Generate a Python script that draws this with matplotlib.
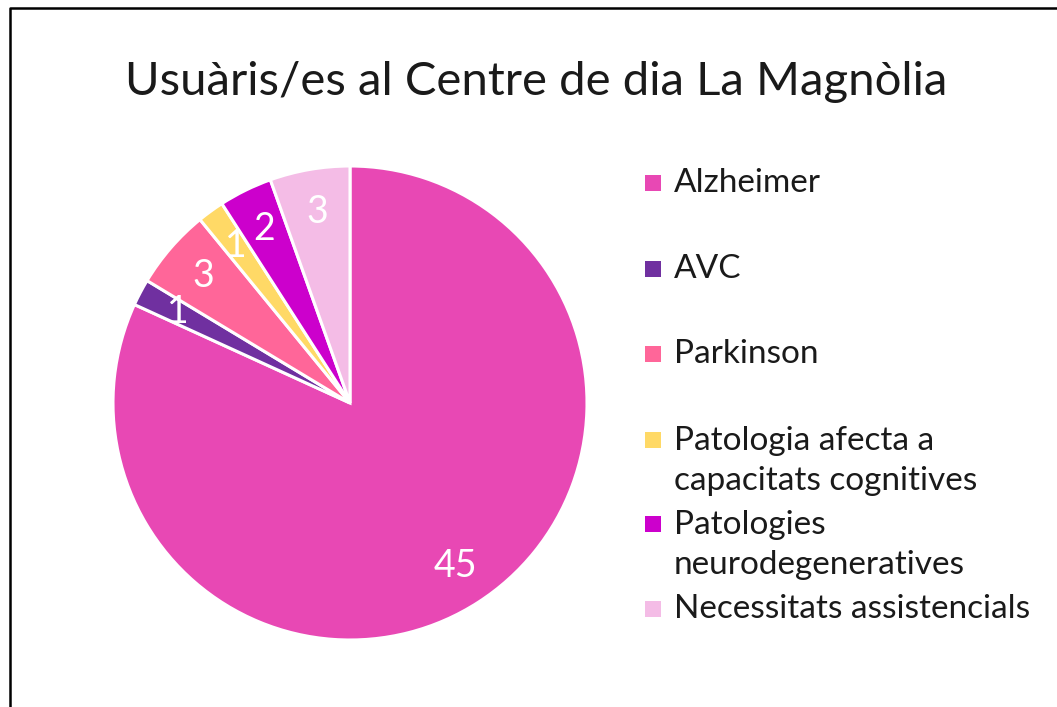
import matplotlib.pyplot as plt
from matplotlib.lines import Line2D
from matplotlib.patches import Rectangle

plt.rcParams['font.family'] = ['Lato', 'DejaVu Sans']

labels = ['Alzheimer', 'AVC', 'Parkinson',
          'Patologia afecta a\ncapacitats cognitives',
          'Patologies\nneurodegeneratives',
          'Necessitats assistencials']
values = [45, 1, 3, 1, 2, 3]
colors = ['#E848B4', '#7030A0', '#FF6699', '#FFD966', '#CC00CC', '#F4BCE6']

W, H = 1057, 707
fig = plt.figure(figsize=(W / 100, H / 100), dpi=100)

# pie axes, center ~ (350, 403) px, radius ~ 237 px
cx, cy, r = 350, 403, 237
ax = fig.add_axes([(cx - r) / W, (H - cy - r) / H, 2 * r / W, 2 * r / H])
total = sum(values)
wedges, texts, autotexts = ax.pie(
    values, colors=colors, startangle=90, counterclock=False,
    autopct=lambda p: '%d' % round(p * total / 100), pctdistance=0.82,
    wedgeprops=dict(edgecolor='white', linewidth=2.2),
    textprops=dict(color='white', fontsize=27))
ax.set_xlim(-1, 1)
ax.set_ylim(-1, 1)
ax.set_aspect('equal')

fig.text(536 / W, 1 - 82 / H, 'Usuàris/es al Centre de dia La Magnòlia',
         ha='center', va='center', fontsize=34, color='#1a1a1a')

# legend, drawn by hand to keep Excel-like spacing
leg_y = [183, 269, 354, 461, 545, 609]
for lab, col, y in zip(labels, colors, leg_y):
    nl = lab.count('\n')
    sq_y = y - nl * 21  # square sits next to the first line
    fig.add_artist(Rectangle((645 / W, 1 - (sq_y + 8) / H), 16 / W, 16 / H,
                             transform=fig.transFigure, facecolor=col,
                             edgecolor='none'))
    fig.text(674 / W, 1 - y / H, lab, ha='left', va='center', fontsize=24,
             color='#1a1a1a', linespacing=1.4)

# chart frame (only left and top visible)
fig.add_artist(Line2D([10 / W, 10 / W, 1], [0, 1 - 8 / H, 1 - 8 / H],
                      transform=fig.transFigure, color='black', linewidth=1.8))

fig.savefig('out.png', dpi=100)
